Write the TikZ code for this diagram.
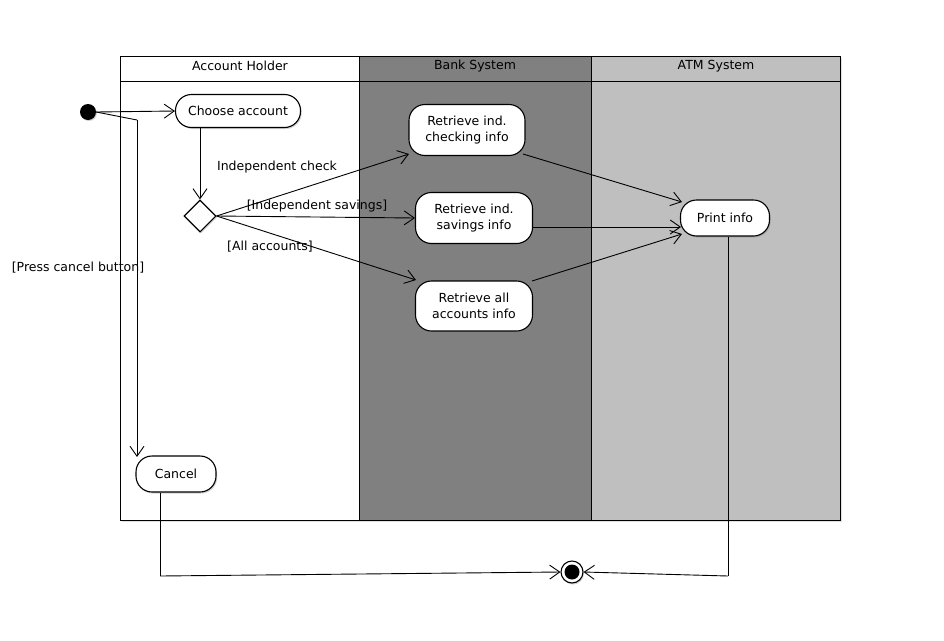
\documentclass[tikz,border=0pt]{standalone}
\usepackage{fontspec}
\setmainfont{DejaVu Sans}
\usetikzlibrary{arrows.meta,shapes.geometric,shadows}
\begin{document}
\begin{tikzpicture}[x=1pt,y=-1pt,
  lbl/.style={font=\fontsize{12.5}{14}\selectfont, inner sep=0pt},
  action/.style={draw, line width=1.1pt, fill=white, rounded corners=16pt,
    align=center, font=\fontsize{12.5}{15.5}\selectfont, inner sep=0pt,
    drop shadow={shadow xshift=1.2pt, shadow yshift=-1.5pt, opacity=0.35}},
  flow/.style={line width=0.9pt, -{Straight Barb[length=10pt,width=14pt,line width=0.9pt]}},
  plain/.style={line width=0.9pt},
  lane/.style={draw, line width=0.85pt},
]
\useasboundingbox (0,0) rectangle (944,640);

% swimlanes
\fill[black!12] (122,58) rectangle (842,522);
\fill[white] (120,56) rectangle (359,520);
\fill[black!50] (359,56) rectangle (591,520);
\fill[black!25] (591,56) rectangle (840,520);
\draw[lane] (120,56) rectangle (840,520);
\draw[lane] (120,81) -- (840,81);
\draw[lane] (359,56) -- (359,520);
\draw[lane] (591,56) -- (591,520);
\node[lbl] (hAcc) at (240,66) {Account Holder};
\node[lbl] (hBank) at (475,66) {Bank System};
\node[lbl] (hAtm) at (716,66) {ATM System};

% nodes
\node[circle, fill=black, minimum size=16pt, inner sep=0pt,
  drop shadow={shadow xshift=1pt, shadow yshift=-1pt, opacity=0.35}] (init) at (88,112) {};
\node[action, minimum width=125pt, minimum height=33pt] (choose) at (238,111) {Choose account};
\node[diamond, draw, fill=white, line width=1.1pt, minimum width=32pt, minimum height=32pt,
  inner sep=0pt, drop shadow={shadow xshift=1pt, shadow yshift=-1.5pt, opacity=0.35}] (dec) at (200,216) {};
\node[action, minimum width=116pt, minimum height=51pt] (chk) at (467,130) {Retrieve ind.\\checking info};
\node[action, minimum width=117pt, minimum height=51pt] (sav) at (474,218) {Retrieve ind.\\savings info};
\node[action, minimum width=117pt, minimum height=50pt] (all) at (474,306) {Retrieve all\\accounts info};
\node[action, minimum width=89pt, minimum height=36pt] (print) at (725,218) {Print info};
\node[action, minimum width=80pt, minimum height=36pt] (cancel) at (176,474) {Cancel};
\node[circle, draw, line width=1.1pt, fill=white, minimum size=22pt, inner sep=0pt,
  drop shadow={shadow xshift=1pt, shadow yshift=-1.5pt, opacity=0.35}] (final) at (572,572) {};
\fill (final.center) circle (7.5pt);

% connector anchors
\coordinate (bend) at (137,120);
\coordinate (cIn) at (137,457);
\coordinate (printLow) at (728,576);
\coordinate (cancelLow) at (160,576);

% flows
\draw[flow] (init.east) -- (choose.west);
\draw[plain] (init.east) -- (bend);
\draw[flow] (bend) -- (cIn);
\draw[flow] (choose.south -| dec.north) -- (dec.north);
\draw[flow] (dec.east) -- (409,154);
\draw[flow] (dec.east) -- (sav.west);
\draw[flow] (dec.east) -- (416,280);
\draw[flow] (523,154) -- (682,202);
\draw[flow] (533,227) -- (681,227);
\draw[flow] (532,281) -- (682,234);
\draw[plain] (print.south -| printLow) -- (printLow);
\draw[flow] (printLow) -- (final.east);
\draw[plain] (cancel.south -| cancelLow) -- (cancelLow);
\draw[flow] (cancelLow) -- (final.west);

% guard labels
\node[lbl] (gChk) at (277,167) {Independent check};
\node[lbl] (gSav) at (317,206) {[Independent savings]};
\node[lbl] (gAll) at (270,247) {[All accounts]};
\node[lbl] (gCan) at (78,268) {[Press cancel button]};
\end{tikzpicture}
\end{document}
